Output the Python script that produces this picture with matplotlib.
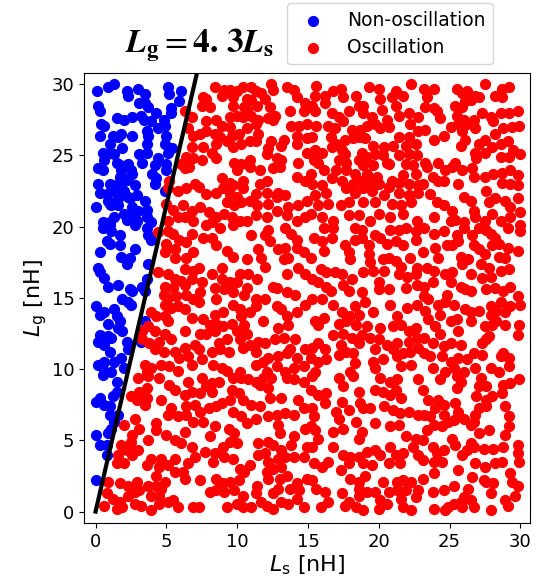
import numpy as np
import matplotlib
matplotlib.use("Agg")
import matplotlib.pyplot as plt

# Sampled (Ls, Lg) design points in nH, split by simulated behaviour
non_osc_points = [
    (0.1,29.5),(0.9,29.8),(1.3,30.0),(2.2,29.5),(2.3,29.2),(3.0,29.7),(3.5,29.3),(5.1,29.8),(5.2,29.3),(6.0,29.5),
    (5.9,28.8),(0.2,28.5),(0.3,28.1),(3.1,28.7),(3.5,28.7),(3.7,28.4),(4.3,28.0),(5.3,28.3),(5.3,28.0),(1.5,27.6),
    (2.0,27.5),(2.6,27.7),(3.2,27.8),(3.4,27.5),(3.9,27.4),(4.8,27.5),(4.9,27.1),(0.4,27.2),(0.6,27.1),(0.3,26.4),
    (1.2,26.4),(1.6,26.3),(1.8,26.5),(2.6,26.4),(3.6,26.7),(3.7,26.4),(4.4,26.9),(5.0,26.4),(1.0,25.8),(1.9,25.5),
    (3.6,25.8),(4.9,25.8),(5.4,25.5),(0.5,25.2),(0.8,25.1),(1.3,25.1),(3.1,25.1),(3.6,25.2),(4.4,24.8),(5.1,25.2),
    (0.6,24.7),(1.5,24.5),(1.7,24.3),(2.3,24.4),(3.3,24.5),(0.2,24.1),(0.5,24.0),(1.8,24.0),(2.5,24.0),(4.2,24.3),
    (4.0,23.7),(5.0,24.0),(5.0,24.4),(1.9,23.5),(2.6,23.7),(0.2,23.0),(1.0,23.0),(1.6,23.0),(1.9,23.1),(2.8,22.9),
    (4.2,23.0),(4.3,23.4),(0.3,22.4),(0.8,22.3),(1.3,22.5),(2.0,22.5),(2.9,22.2),(4.9,22.5),(0.9,21.8),(1.6,22.0),
    (2.3,22.1),(3.5,21.8),(0.0,21.4),(1.1,21.5),(1.6,21.5),(2.6,21.4),(3.0,21.1),(3.6,21.2),(1.3,20.7),(2.2,20.5),
    (2.5,20.9),(2.9,20.4),(3.6,20.7),(0.5,20.3),(1.0,20.3),(3.9,20.3),(1.2,22.8),(1.8,22.2),(2.2,23.3),(1.5,21.9),
    (2.4,22.0),(1.0,21.6),(2.0,20.9),(1.7,23.5),
    (0.5,19.9),(1.0,20.1),(2.8,20.1),(3.6,19.9),(1.1,19.7),(1.7,19.4),(0.8,19.0),(1.0,18.8),(1.7,18.7),(2.8,18.4),
    (3.7,19.4),(3.9,19.1),(0.3,18.2),(1.8,17.9),(2.4,17.8),(2.2,17.4),(3.7,17.4),(0.2,17.1),(0.3,16.8),(0.6,16.4),
    (0.9,15.8),(1.6,15.9),(2.4,15.6),(2.6,15.5),(3.3,15.8),(3.5,15.5),(3.6,16.3),(1.9,14.9),(2.3,14.7),(0.0,14.4),
    (0.3,13.8),(0.6,14.0),(1.3,14.2),(1.5,13.7),(1.7,13.4),(2.5,14.5),(0.9,13.2),(0.3,12.4),(0.9,12.3),(1.6,12.9),
    (1.9,12.7),(1.1,12.2),(2.2,11.9),(0.2,11.9),(0.6,11.7),(1.0,11.2),(2.3,11.4),(3.5,13.4),(3.2,11.9),(0.2,10.3),
    (0.6,9.9),(1.3,10.5),(1.8,10.8),(2.0,10.1),(1.1,9.8),(0.6,10.5),
    (0.5,9.6),(1.5,9.1),(1.5,8.4),(0.3,8.0),(0.0,7.7),(0.6,7.5),(1.0,7.4),(1.2,8.1),(1.0,6.8),(1.6,6.8),
    (1.3,6.3),(1.1,5.8),(0.9,5.5),(0.0,5.4),(0.3,4.7),(0.8,4.7),(0.8,4.0),(0.0,2.2),
]

osc_points = [
    (6.3,28.1),(6.8,27.7),(6.5,26.9),(6.9,26.4),(6.8,25.6),(6.4,24.9),(6.9,24.8),(6.3,24.1),(5.2,23.2),(5.1,22.7),
    (5.8,22.5),(6.4,22.7),(7.0,23.0),(5.0,21.6),(5.5,21.2),(6.2,21.5),(6.8,21.1),(5.8,20.7),(6.3,20.7),(5.1,20.4),
    (6.9,20.4),(6.0,24.4),(6.6,24.2),
    (8.4,29.8),(9.1,29.6),(9.5,29.6),(10.0,29.5),(10.4,29.8),(11.0,29.8),(11.3,29.5),(11.7,29.4),(12.4,30.0),(12.5,29.6),
    (13.5,29.8),(14.0,29.6),(7.6,29.1),(7.8,29.0),(8.9,29.2),(9.7,29.1),(10.7,29.0),(11.0,28.9),(12.0,29.0),(14.2,29.1),
    (14.8,28.7),(7.5,28.5),(8.1,28.4),(9.7,28.5),(10.5,28.4),(10.7,28.2),(11.4,28.5),(12.3,28.4),(12.7,27.8),(12.5,27.5),
    (13.7,28.1),(14.7,28.1),(7.8,27.4),(8.5,27.5),(8.9,27.1),(9.5,27.7),(10.0,27.8),(10.4,27.7),(11.0,27.8),(11.3,27.2),
    (11.5,27.5),(12.2,27.6),(13.8,27.1),(14.4,27.1),(14.9,27.2),(7.4,26.5),(7.8,26.7),(8.4,26.5),(8.8,26.3),(9.5,27.0),
    (9.6,26.4),(10.1,26.5),(10.7,26.9),(10.9,26.0),(11.5,26.5),(12.4,26.0),(13.3,26.1),(14.2,26.4),(14.9,26.2),(8.5,25.8),
    (9.3,26.0),(9.7,25.6),(10.3,25.8),(11.3,26.0),(12.2,25.5),(13.1,25.7),(14.2,25.8),(14.9,25.2),(7.6,25.6),(8.2,25.2),
    (8.5,24.8),(7.5,24.7),(9.8,24.5),(10.3,24.4),(10.9,24.7),(12.1,25.1),(12.8,24.8),(13.1,24.7),(13.0,24.2),(12.5,24.1),
    (14.3,24.5),(11.6,24.0),(10.0,24.0),(10.9,24.2),(8.9,23.4),(9.5,23.1),(9.7,22.9),(10.4,23.2),(11.6,23.0),(12.1,23.2),
    (14.2,23.5),(14.8,23.2),(7.3,22.8),(7.8,22.3),(8.5,22.4),(9.0,22.7),(9.5,22.3),(10.0,22.1),(10.4,22.7),(11.3,22.3),
    (12.1,22.4),(12.9,22.4),(13.4,22.2),(9.3,21.7),(9.8,21.5),(10.3,21.7),(10.9,21.8),(11.4,21.5),(12.2,21.6),(12.8,22.1),
    (13.6,21.4),(14.3,21.5),(14.9,21.8),(7.4,21.4),(8.0,21.0),(8.5,20.7),(9.1,20.9),(9.6,20.7),(10.2,20.4),(11.3,20.8),
    (12.1,20.7),(12.8,21.1),(13.5,20.8),(14.2,20.4),(14.8,20.7),(8.2,20.3),(10.7,20.4),
    (15.6,29.9),(15.5,29.2),(16.2,29.2),(16.8,29.5),(17.3,29.7),(17.5,29.1),(18.4,29.2),(19.3,29.8),(20.0,29.7),(20.1,29.0),
    (20.9,29.1),(21.2,29.5),(21.7,29.2),(22.3,30.0),(15.3,28.5),(15.5,28.1),(16.2,28.7),(16.7,28.0),(17.2,27.7),(17.9,28.1),
    (18.6,28.5),(18.9,28.5),(18.9,28.0),(19.5,27.7),(20.2,28.2),(20.6,27.5),(21.2,28.5),(21.4,27.8),(22.1,28.0),(22.2,27.2),
    (22.8,27.7),(15.6,27.1),(16.4,27.1),(16.9,26.9),(17.5,27.4),(18.1,26.8),(18.7,26.8),(19.2,27.1),(19.7,27.2),(20.1,26.9),
    (20.7,27.0),(21.4,26.3),(22.1,26.3),(22.8,26.7),(15.3,26.3),(16.6,26.3),(17.0,25.8),(17.6,26.1),(18.2,26.2),(18.6,26.3),
    (19.0,26.2),(19.6,25.7),(20.4,25.6),(21.0,25.7),(21.9,25.7),(22.6,25.8),(15.5,25.4),(16.0,25.2),(16.7,25.6),(17.4,25.4),
    (17.6,25.1),(18.8,25.2),(19.2,24.9),(19.7,25.1),(20.3,25.0),(20.6,24.5),(21.4,25.0),(22.1,25.1),(22.7,25.0),(15.4,24.7),
    (15.7,24.5),(17.2,24.7),(17.7,24.5),(18.6,24.7),(18.9,24.3),(19.6,24.3),(20.7,24.4),(21.9,24.4),(22.4,24.3),(15.2,23.7),
    (16.1,24.0),(17.0,24.0),(17.7,24.0),(18.3,23.7),(19.2,23.7),(19.9,23.5),(20.9,23.2),(21.7,23.6),(22.6,23.7),(15.3,23.0),
    (16.0,22.9),(16.7,23.4),(17.4,23.2),(18.2,23.0),(18.8,23.2),(19.4,23.2),(20.0,23.0),(20.7,22.8),(21.4,23.1),(22.1,23.0),
    (22.8,22.9),(15.5,22.2),(16.3,22.4),(17.7,22.7),(18.3,22.4),(18.9,22.7),(19.5,22.5),(20.4,22.2),(21.4,22.4),(22.1,22.2),
    (22.8,22.4),(15.7,21.5),(16.4,21.6),(17.3,21.5),(17.9,21.7),(18.9,21.7),(19.7,21.7),(20.9,21.6),(21.6,21.5),(22.3,21.7),
    (16.0,20.7),(16.8,20.4),(17.9,20.8),(18.6,20.8),(19.4,20.4),(20.0,20.9),(20.8,20.7),(21.7,20.9),(22.7,20.4),(15.2,20.9),
    (23.2,29.7),(23.9,29.7),(23.4,29.1),(25.5,29.7),(25.9,29.4),(26.2,29.5),(26.8,29.2),(27.5,30.0),(28.7,29.7),(29.2,29.8),
    (28.2,29.2),(28.7,29.1),(23.3,28.4),(23.9,28.3),(24.1,28.1),(25.4,28.5),(25.9,28.4),(26.1,28.8),(26.5,28.9),(27.1,29.1),
    (24.3,27.6),(25.5,27.8),(26.0,27.5),(26.7,27.5),(27.3,28.0),(27.9,27.7),(28.1,27.4),(28.6,28.0),(29.2,28.0),(29.8,28.1),
    (23.3,26.8),(23.9,26.1),(24.6,26.4),(25.1,27.0),(25.6,27.2),(25.9,26.7),(26.2,27.2),(26.8,26.9),(28.2,26.5),(28.8,26.9),
    (29.4,27.0),(29.9,27.1),(25.8,25.7),(26.1,26.1),(27.1,25.8),(27.5,26.1),(28.0,25.6),(28.6,25.8),(29.1,26.0),(29.5,25.4),
    (30.0,25.1),(26.8,25.2),(26.9,24.8),(27.5,25.2),(28.6,24.9),(29.2,24.9),(23.3,24.5),(23.4,24.2),(24.2,24.5),(24.7,24.0),
    (25.2,24.2),(25.4,24.5),(25.9,24.0),(26.6,24.1),(26.7,23.5),(27.5,23.5),(28.1,23.7),(28.7,23.8),(29.3,24.0),(29.8,23.6),
    (23.1,23.0),(23.8,23.5),(24.2,23.2),(24.6,23.2),(25.6,23.0),(27.6,22.5),(28.7,23.1),(29.3,23.0),(29.8,22.9),(23.6,22.3),
    (24.1,21.7),(24.6,21.5),(25.2,21.1),(26.0,22.1),(26.5,21.8),(27.8,21.7),(28.2,22.0),(28.9,21.8),(29.3,21.4),(29.8,22.0),
    (23.9,20.7),(25.1,20.4),(25.4,20.5),(26.7,21.1),(26.8,20.7),(27.5,20.4),(28.0,20.9),(28.6,20.4),(29.3,20.7),(30.0,21.0),
    (26.0,20.3),
    (4.4,19.6),(5.1,19.7),(5.5,19.5),(5.9,19.1),(6.4,18.9),(6.8,19.5),(5.0,18.8),(5.6,18.4),(4.9,18.2),(5.6,17.8),
    (6.4,17.8),(6.9,18.2),(6.3,17.0),(6.9,16.9),(4.4,16.8),(5.1,16.7),(5.6,16.3),(6.0,16.2),(6.8,16.3),(6.3,15.9),
    (4.9,15.8),(5.5,15.7),(4.8,15.2),(5.1,15.0),(5.7,15.1),(6.4,15.2),(6.9,14.9),(5.8,14.4),(6.3,14.2),(4.9,14.5),
    (5.3,14.3),(3.9,14.0),(4.3,13.7),(4.9,13.7),(5.1,13.4),(6.8,13.6),(3.7,13.0),(3.3,12.7),(4.2,12.7),(4.9,12.5),
    (6.3,12.7),(3.3,12.1),(3.8,11.8),(4.5,11.9),(5.3,12.1),(4.2,11.4),(4.8,11.2),(5.6,11.2),(6.3,11.5),(7.0,11.7),
    (3.5,10.3),(3.9,10.1),(4.6,10.3),(5.2,10.2),(5.9,10.8),(6.5,10.9),(6.8,10.3),(5.8,9.9),(3.6,9.8),
    (7.8,20.1),(8.8,19.9),(9.7,20.1),(11.0,19.4),(12.0,19.4),(12.2,19.8),(13.4,19.9),(13.8,19.5),(14.2,19.1),(7.6,19.2),
    (8.2,19.2),(8.5,18.7),(9.3,18.3),(9.7,17.9),(10.7,17.7),(11.5,18.4),(11.7,17.8),(12.3,19.0),(12.9,18.4),(13.4,18.5),
    (13.6,17.8),(14.2,18.5),(14.7,18.2),(7.3,17.1),(8.2,16.7),(8.9,17.1),(8.9,16.3),(9.5,16.1),(10.0,16.1),(10.2,16.7),
    (10.8,16.7),(11.4,16.3),(12.0,17.2),(12.5,15.8),(13.3,17.7),(13.5,16.7),(14.3,17.1),(14.8,16.7),(7.5,16.1),(7.4,15.4),
    (8.4,15.7),(8.5,14.9),(9.1,15.6),(9.7,15.4),(10.5,15.2),(10.7,15.7),(11.3,14.9),(12.0,14.9),(12.8,15.7),(13.5,15.4),
    (14.1,15.2),(14.8,14.5),(7.3,14.7),(9.7,14.5),(10.2,14.2),(10.3,13.7),(10.9,14.0),(11.3,14.4),(12.8,14.4),(13.1,14.2),
    (13.5,13.7),(14.2,14.0),(7.6,13.5),(8.1,13.1),(8.5,13.2),(9.0,13.0),(9.6,13.2),(10.0,12.7),(10.5,13.1),(10.7,12.5),
    (11.8,13.4),(12.9,12.9),(13.6,13.1),(14.1,12.1),(7.4,12.5),(7.8,12.5),(8.4,12.7),(8.7,11.8),(9.3,12.1),(10.2,12.1),
    (10.9,11.7),(11.5,11.9),(12.0,11.8),(12.7,12.1),(13.3,12.2),(13.7,11.4),(7.3,11.4),(8.2,11.2),(8.8,11.4),(9.4,11.2),
    (10.4,11.5),(11.3,11.2),(12.2,10.8),(12.9,10.9),(13.5,11.1),(14.2,10.8),(14.8,11.4),(7.5,10.7),(8.3,10.3),(8.9,10.1),
    (9.3,9.9),(10.2,9.8),(11.3,10.3),(11.8,10.5),(12.1,9.8),(12.8,10.2),(14.0,10.1),(14.7,10.2),(13.4,9.8),(8.4,13.8),
    (9.0,14.0),
    (16.1,19.9),(16.8,19.9),(18.3,19.9),(18.8,19.8),(19.7,19.4),(20.1,19.2),(20.8,19.8),(21.4,19.8),(21.9,19.9),(22.6,19.7),
    (15.4,19.2),(16.0,19.0),(16.7,19.2),(16.1,18.3),(17.6,18.7),(17.9,18.2),(18.3,19.1),(18.8,19.2),(19.3,18.7),(20.6,18.8),
    (21.2,19.0),(21.7,18.7),(22.6,19.1),(15.2,17.8),(18.0,17.7),(19.3,18.1),(19.4,17.5),(20.3,17.7),(20.7,17.8),(21.2,17.6),
    (21.6,17.2),(22.2,17.8),(22.7,17.1),(15.9,17.0),(16.3,16.8),(16.9,16.8),(17.4,16.7),(18.9,16.8),(19.6,16.9),(20.0,16.1),
    (20.4,16.9),(21.4,16.7),(22.0,16.5),(22.6,16.7),(15.3,16.3),(15.7,16.1),(16.3,15.8),(16.6,15.5),(17.5,15.9),(18.1,16.3),
    (17.9,15.5),(18.8,15.4),(19.0,14.7),(20.0,15.6),(20.7,15.6),(21.9,15.7),(22.7,15.9),(15.3,14.9),(16.0,14.9),(16.8,14.5),
    (17.4,14.0),(18.0,13.7),(18.3,14.4),(18.6,13.8),(19.6,14.0),(20.8,14.5),(21.3,13.7),(22.0,14.3),(22.7,14.5),(15.5,13.4),
    (16.1,13.6),(15.7,13.1),(17.2,13.2),(17.7,13.4),(18.4,13.1),(19.2,13.0),(20.1,12.9),(21.0,13.0),(21.6,13.1),(22.1,12.7),
    (22.6,12.9),(16.8,12.4),(17.5,12.5),(18.1,12.2),(18.8,12.4),(19.4,12.2),(20.0,12.1),(20.6,11.7),(21.3,11.8),(22.1,11.9),
    (22.7,12.2),(15.3,11.5),(15.7,11.8),(16.2,11.4),(17.3,11.7),(17.7,11.2),(18.2,11.1),(18.6,11.8),(19.7,11.4),(21.0,11.4),
    (21.7,11.1),(22.2,11.2),(22.8,11.5),(15.2,10.8),(15.7,10.5),(16.3,10.7),(17.2,11.0),(18.3,10.4),(19.6,10.5),(19.7,10.1),
    (20.3,10.7),(21.3,10.9),(21.6,10.2),(22.3,10.3),(15.5,9.8),(18.0,9.8),
    (23.2,19.9),(23.9,19.5),(24.6,19.7),(25.5,19.4),(25.6,19.0),(26.0,19.9),(26.6,19.4),(27.1,19.9),(27.6,19.8),(27.9,19.5),
    (28.2,19.2),(29.1,19.9),(30.0,19.7),(30.0,20.1),(24.0,18.5),(24.8,18.7),(25.2,18.7),(26.7,18.7),(27.1,18.4),(28.0,18.7),
    (28.5,18.8),(29.1,18.5),(29.8,18.3),(23.1,18.2),(24.2,17.8),(25.8,17.9),(26.3,17.7),(27.5,18.1),(28.5,17.9),(28.9,17.8),
    (23.4,17.1),(23.9,16.9),(24.7,16.7),(25.2,16.8),(25.9,17.4),(26.5,16.7),(27.2,17.4),(27.8,17.1),(28.6,16.9),(29.2,17.0),
    (27.3,16.4),(27.9,16.5),(23.8,16.1),(23.2,15.8),(25.1,16.1),(25.8,15.8),(26.5,15.5),(26.1,15.6),(27.6,15.6),(28.2,15.7),
    (28.8,15.5),(29.3,15.8),(29.8,15.1),(23.2,15.1),(23.5,14.9),(24.2,14.5),(24.7,14.7),(24.8,15.2),(25.3,14.5),(26.1,14.2),
    (26.5,14.0),(27.1,14.1),(27.9,14.4),(28.6,14.7),(29.3,14.4),(30.0,14.5),(23.3,14.1),(23.5,13.5),(24.3,13.8),(25.1,13.4),
    (25.5,13.5),(26.5,13.4),(27.9,13.8),(28.3,14.1),(28.9,14.0),(24.0,13.0),(24.3,12.5),(25.6,12.7),(27.5,13.0),(28.0,13.1),
    (28.3,13.4),(28.9,13.1),(29.9,13.1),(29.8,12.4),(27.8,12.3),(23.2,12.2),(23.8,11.8),(24.6,11.6),(25.1,11.8),(25.8,11.7),
    (27.6,12.1),(27.3,11.8),(28.8,11.1),(28.6,10.9),(29.2,10.8),(23.2,11.1),(23.6,10.9),(24.5,10.9),(25.1,10.5),(25.6,10.8),
    (26.2,10.7),(26.7,11.1),(27.3,11.0),(23.8,10.1),(24.7,9.8),(25.3,10.1),(26.0,9.8),(26.8,10.1),(27.9,10.1),(28.5,9.8),
    (29.2,10.2),
    (3.0,9.4),(3.7,9.5),(4.5,9.4),(5.2,8.9),(6.5,9.1),(3.6,8.7),(3.1,8.4),(2.5,8.1),(2.9,7.8),(3.6,8.0),
    (3.5,7.5),(4.6,7.8),(5.6,8.5),(6.3,8.2),(6.8,8.4),(7.0,7.5),(6.4,7.4),(5.3,7.3),(5.1,6.8),(5.8,6.7),
    (6.4,6.8),(6.9,6.3),(2.0,6.1),(2.8,6.5),(3.1,5.8),(2.6,5.4),(2.5,4.9),(2.4,4.5),(1.8,4.7),(2.2,4.3),
    (1.6,4.0),(1.5,3.4),(2.0,3.4),(2.6,4.0),(3.0,4.3),(3.7,5.0),(4.3,6.2),(4.3,5.7),(5.0,5.4),(5.6,5.0),
    (6.3,5.6),(6.0,4.8),(6.8,4.5),(7.0,3.8),(6.5,3.4),(5.6,3.7),(5.1,3.3),(5.6,2.8),(6.2,2.8),(6.3,2.3),
    (3.9,3.7),(4.5,3.1),(3.6,3.3),(4.3,2.5),(4.6,3.7),(0.9,2.1),(1.7,2.0),(2.3,1.8),(2.9,2.1),(3.1,1.5),
    (3.7,1.8),(4.3,1.8),(4.6,1.6),(4.9,2.1),(0.8,1.3),(1.2,0.9),(1.7,0.7),(2.3,1.1),(2.8,1.4),(2.8,0.5),
    (3.2,0.4),(3.9,1.1),(4.5,1.1),(5.1,0.7),(5.5,0.8),(0.6,0.4),(1.5,0.2),(3.9,0.1),(4.5,0.5),(5.8,0.3),
    (6.9,0.3),(1.9,0.3),
    (7.5,9.4),(7.8,8.8),(8.2,9.0),(8.7,9.1),(9.7,9.4),(10.3,9.4),(10.8,9.3),(11.3,9.1),(11.8,9.4),(12.4,9.4),
    (13.5,9.4),(14.0,9.3),(14.7,9.1),(7.4,8.3),(8.2,8.4),(9.6,8.5),(10.1,8.3),(11.6,8.9),(12.2,8.7),(13.1,8.0),
    (14.3,7.8),(9.5,7.8),(8.9,7.6),(8.5,7.4),(10.4,7.8),(11.0,7.5),(11.6,7.4),(12.3,8.0),(7.4,7.0),(8.0,7.3),
    (9.7,7.0),(10.3,6.7),(10.7,6.2),(11.3,6.5),(12.2,6.7),(12.8,6.8),(13.4,6.9),(14.0,6.8),(14.7,7.3),(7.6,6.3),
    (8.4,6.0),(9.4,5.8),(9.8,5.5),(12.9,6.1),(13.0,5.5),(14.0,5.3),(8.1,5.3),(9.0,4.5),(9.5,4.9),(10.0,4.8),
    (11.5,4.8),(12.2,4.9),(12.5,4.7),(13.1,4.3),(13.8,4.7),(14.8,5.8),(14.9,4.5),(7.7,4.2),(8.4,4.1),(9.1,3.8),
    (9.7,3.7),(11.5,4.0),(12.0,4.1),(12.2,3.5),(12.9,3.7),(13.4,3.8),(14.0,3.8),(14.7,3.8),(8.3,3.5),(10.2,3.0),
    (10.9,3.3),(10.5,2.8),(12.1,2.8),(12.5,3.0),(13.1,3.1),(13.5,2.5),(7.4,2.2),(8.5,2.3),(9.0,2.0),(9.5,2.1),
    (10.1,2.2),(11.4,1.8),(12.2,2.3),(13.0,2.3),(14.2,2.0),(14.9,2.3),(8.1,1.4),(8.5,1.5),(9.1,1.4),(9.8,1.5),
    (10.4,1.1),(11.3,1.3),(12.5,1.3),(12.9,1.6),(13.7,1.6),(14.4,1.5),(9.3,0.3),(10.0,0.5),(10.4,0.3),(11.0,0.3),
    (11.7,0.7),(12.1,0.4),(12.5,0.2),(13.1,0.7),(13.6,0.5),(14.2,0.9),(14.7,0.3),(7.3,0.3),
    (15.3,9.5),(17.2,9.4),(17.5,8.8),(18.2,9.5),(20.1,9.4),(20.8,9.1),(21.3,9.3),(22.8,9.3),(15.2,8.5),(15.7,8.2),
    (16.3,8.3),(16.2,7.6),(17.4,7.7),(17.0,7.0),(17.2,6.5),(17.9,7.1),(18.6,8.4),(18.7,7.6),(18.9,7.3),(19.4,7.3),
    (19.7,8.5),(20.3,8.4),(20.8,8.2),(21.2,8.5),(21.6,8.0),(20.4,7.4),(21.0,7.1),(21.5,6.9),(22.1,7.0),(22.8,6.8),
    (15.3,7.3),(15.4,6.7),(15.2,6.0),(15.5,5.7),(16.8,5.6),(17.5,5.8),(18.4,6.3),(18.8,5.6),(18.6,5.1),(19.7,6.2),
    (20.8,6.0),(21.4,6.1),(21.9,5.3),(22.6,5.1),(15.7,5.1),(15.3,4.5),(16.8,4.5),(17.5,4.0),(18.0,3.8),(18.6,3.8),
    (19.2,4.2),(19.7,4.3),(20.1,4.0),(20.8,4.5),(21.2,4.0),(21.7,4.1),(22.4,4.5),(22.8,4.0),(15.4,3.4),(16.0,3.1),
    (16.4,3.5),(17.3,2.9),(17.9,3.4),(18.9,3.4),(19.5,3.3),(20.7,3.4),(21.5,3.4),(15.3,2.2),(15.6,1.6),(16.2,1.4),
    (18.0,2.3),(18.6,2.1),(19.0,2.5),(18.6,1.6),(19.2,1.4),(20.3,2.1),(21.3,2.1),(21.7,2.2),(22.3,2.1),(22.8,1.5),
    (19.7,1.4),(20.7,1.4),(21.3,1.5),(21.9,1.5),(17.4,1.3),(17.9,0.7),(18.6,1.1),(20.1,0.8),(20.6,0.5),(21.6,0.9),
    (22.6,1.0),(15.9,0.3),(17.6,0.4),(18.4,0.3),(18.9,0.1),(20.0,0.2),(20.2,0.5),(21.7,0.3),(22.3,0.1),(16.4,0.7),
    (24.3,9.3),(25.5,9.5),(25.5,8.7),(25.8,9.1),(27.1,8.8),(27.6,8.8),(27.2,9.4),(28.8,8.9),(29.3,9.0),(29.9,9.3),
    (23.1,8.5),(23.5,7.8),(24.2,7.8),(24.6,7.5),(24.0,7.3),(23.6,6.7),(24.6,6.8),(25.4,7.6),(26.9,8.1),(27.6,7.8),
    (28.0,8.1),(28.7,8.3),(27.1,7.3),(27.6,7.4),(28.9,7.4),(25.6,7.0),(26.0,6.5),(26.8,6.8),(23.2,6.8),(23.4,5.7),
    (23.9,6.1),(24.5,6.0),(24.9,6.3),(25.3,6.4),(26.5,6.1),(27.1,5.5),(27.8,5.7),(26.7,6.3),(29.2,6.7),(29.2,6.0),
    (28.9,5.4),(23.1,5.0),(23.8,4.5),(24.1,4.1),(24.6,4.3),(25.2,5.1),(25.4,4.7),(25.9,4.0),(26.2,4.3),(26.5,4.8),
    (26.7,4.5),(27.4,4.4),(28.1,4.4),(28.8,4.5),(29.8,4.7),(29.9,3.5),(29.8,4.1),(28.2,3.4),(28.7,3.5),(27.5,3.1),
    (26.8,3.4),(23.1,3.6),(23.9,3.5),(24.5,3.5),(25.6,2.9),(23.9,2.7),(26.6,2.4),(27.6,2.1),(28.1,2.0),(29.3,2.7),
    (29.4,2.1),(29.8,1.8),(23.1,2.3),(23.8,1.4),(24.6,1.5),(25.3,1.8),(26.3,1.6),(27.4,2.2),(27.9,1.3),(28.9,0.8),
    (29.6,1.1),(26.0,1.0),(26.5,0.8),(25.8,0.7),(25.3,0.5),(24.9,0.3),(24.7,0.1),(23.9,0.2),(25.9,0.3),(27.9,0.1),
    (29.1,0.4),(26.7,0.3),
]

# Stability boundary Lg = 4.3 Ls
boundary_ratio = 4.3
boundary_lg = [0.0, 31.0]

non_ls, non_lg = np.array(non_osc_points).T
osc_ls, osc_lg = np.array(osc_points).T

fig = plt.figure(figsize=(5.4, 5.83), dpi=100)
ax = fig.add_axes([0.156, 0.103, 0.826, 0.772])

h_non = ax.scatter(non_ls, non_lg, c="blue", s=50, label="Non-oscillation", zorder=2)
h_osc = ax.scatter(osc_ls, osc_lg, c="red", s=50, label="Oscillation", zorder=2)

line_lg = np.array(boundary_lg)
ax.plot(line_lg / boundary_ratio, line_lg, color="black", lw=3, zorder=3)

ax.set_xlim(-0.8, 30.7)
ax.set_ylim(-0.8, 30.8)
ax.set_xticks([0, 5, 10, 15, 20, 25, 30])
ax.set_yticks([0, 5, 10, 15, 20, 25, 30])
ax.tick_params(labelsize=13)
ax.set_xlabel(r"$L_\mathrm{s}$ [nH]", fontsize=16, labelpad=2)
ax.set_ylabel(r"$L_\mathrm{g}$ [nH]", fontsize=16, labelpad=2)

fig.text(200 / 540, 1 - 45 / 583,
         r"$\mathbfit{L}_\mathbf{g} = \mathbf{4.\,3}\mathbfit{L}_\mathbf{s}$",
         fontsize=24, ha="center", va="center", math_fontfamily="stix")

fig.legend(handles=[h_non, h_osc], loc="upper left",
           bbox_to_anchor=(287 / 540, 1 - 3 / 583), fontsize=13.5,
           labelspacing=0.45, borderaxespad=0.0)

fig.savefig("out.png", dpi=100)
